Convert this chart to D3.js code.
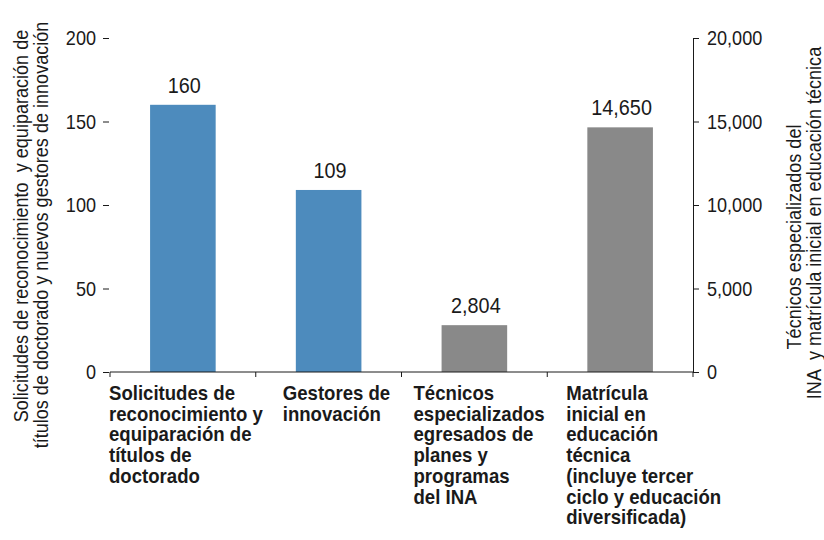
<!DOCTYPE html>
<html><head><meta charset="utf-8">
<script src="https://cdn.jsdelivr.net/npm/d3@7"></script>
<style>
body{margin:0;background:#fff;}
svg{display:block;}
text{font-family:"Liberation Sans Narrow","Arial Narrow","Liberation Sans",Arial,sans-serif;fill:#1a1a1a;white-space:pre;}
</style></head>
<body><svg id="c" width="824" height="540"></svg>
<script>
const categories = [
  ["Solicitudes de","reconocimiento y","equiparación de","títulos de","doctorado"],
  ["Gestores de","innovación"],
  ["Técnicos","especializados","egresados de","planes y","programas","del INA"],
  ["Matrícula","inicial en","educación","técnica","(incluye tercer","ciclo y educación","diversificada)"]
];
const values = [160, 109, 2804, 14650];
const axisSide = ["left","left","right","right"];
const leftTicks = [0, 50, 100, 150, 200];
const rightTicks = [0, 5000, 10000, 15000, 20000];
const leftTitle = ["Solicitudes de reconocimiento  y equiparación de","títulos de doctorado y nuevos gestores de innovación"];
const rightTitle = ["Técnicos especializados del","INA  y matrícula inicial en educación técnica"];

const colors = {left:"#4d8bbd", right:"#898989"};
const labelDx = [-1, 27, 12, 19];

// horizontal condensing to emulate a narrow typeface
function condense(sel, k){
  sel.each(function(){
    const L = this.getComputedTextLength();
    this.setAttribute("lengthAdjust","spacingAndGlyphs");
    this.setAttribute("textLength", (L*k).toFixed(2));
  });
}

const svg = d3.select("#c");
const x = d3.scaleBand().domain(d3.range(categories.length)).range([110, 693]).paddingInner(0.55).paddingOuter(0.275);
const yL = d3.scaleLinear().domain([0,200]).range([372,38]);
const yR = d3.scaleLinear().domain([0,20000]).range([372,38]);
const yOf = i => axisSide[i]==="left" ? yL : yR;
const fmt = d3.format(",");

// bars
svg.selectAll("rect.bar").data(values).join("rect")
  .attr("class","bar")
  .attr("x",(d,i)=>x(i))
  .attr("width",x.bandwidth())
  .attr("y",(d,i)=>yOf(i)(d))
  .attr("height",(d,i)=>yOf(i)(0)-yOf(i)(d))
  .attr("fill",(d,i)=>colors[axisSide[i]]);

// value labels
svg.selectAll("text.val").data(values).join("text")
  .attr("class","val")
  .attr("x",(d,i)=>x(i)+x.bandwidth()/2+1.5)
  .attr("y",(d,i)=>yOf(i)(d)-12)
  .attr("text-anchor","middle")
  .style("font-size","22px")
  .text(d=>fmt(d))
  .call(condense,0.9);

// left axis (no domain line)
const gL = svg.append("g").attr("transform","translate(110,0)")
  .call(d3.axisLeft(yL).tickValues(leftTicks).tickSize(7).tickPadding(7).tickFormat(d3.format("d")));
gL.select(".domain").remove();
gL.selectAll(".tick line").attr("stroke","#1a1a1a").attr("x1",-1);
gL.selectAll(".tick text").style("font-size","21px").attr("fill","#1a1a1a").style("font-family",null).call(condense,0.86);

// right axis
const gR = svg.append("g").attr("transform","translate(693,0)")
  .call(d3.axisRight(yR).tickValues(rightTicks).tickSize(6).tickSizeOuter(0).tickPadding(8).tickFormat(fmt));
gR.select(".domain").attr("stroke","#1a1a1a");
gR.selectAll(".tick line").attr("stroke","#1a1a1a");
gR.selectAll(".tick text").style("font-size","21px").attr("fill","#1a1a1a").style("font-family",null).call(condense,0.86);

// bottom baseline with category boundary ticks
const gB = svg.append("g").attr("transform","translate(0,372)");
gB.append("line").attr("x1",x.range()[0]).attr("x2",x.range()[1]).attr("stroke","#1a1a1a");
const bounds = d3.range(categories.length+1).map(i => x.range()[0] + i*x.step());
gB.selectAll("line.bt").data(bounds).join("line").attr("class","bt")
  .attr("x1",d=>d).attr("x2",d=>d).attr("y1",0).attr("y2",5).attr("stroke","#1a1a1a");

// category labels
categories.forEach((lines,i)=>{
  const x0 = x(i)-x.step()*0.275+labelDx[i];
  lines.forEach((l,j)=>{
    svg.append("text").attr("x",x0).attr("y",400+j*20.7)
      .style("font-size","21px").style("font-weight","bold").text(l).call(condense,0.885);
  });
});

// axis titles
leftTitle.forEach((l,j)=>{
  svg.append("text").attr("transform",`translate(${28+j*20},${[226,235][j]}) rotate(-90)`)
    .attr("text-anchor","middle").style("font-size","21px").text(l).call(condense,0.86);
});
rightTitle.forEach((l,j)=>{
  svg.append("text").attr("transform",`translate(${801+j*20},${[237,223][j]}) rotate(-90)`)
    .attr("text-anchor","middle").style("font-size","21px").text(l).call(condense,0.86);
});
</script></body></html>
